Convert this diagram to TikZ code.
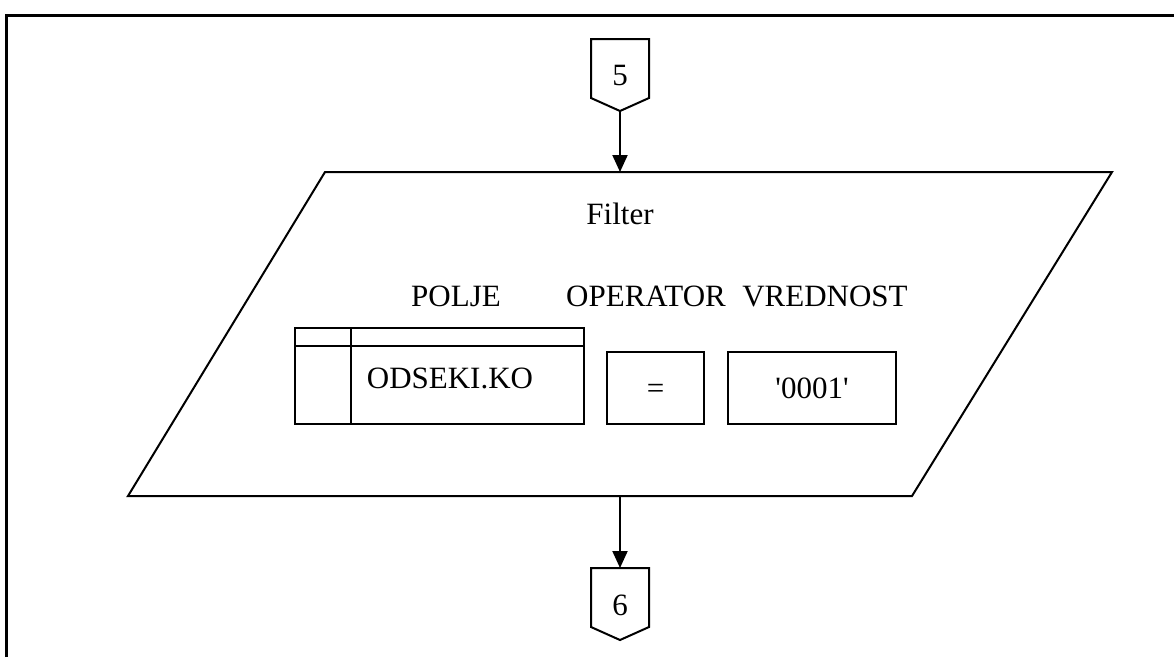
\documentclass[tikz,border=0pt]{standalone}
\usepackage{fontspec}
\setmainfont{Liberation Serif}
\usetikzlibrary{arrows.meta,calc}
\begin{document}
\begin{tikzpicture}[x=1pt,y=-1pt,
  line width=2pt,
  txt/.style={inner sep=0pt,anchor=base,font=\fontsize{31}{37}\selectfont},
  boxnode/.style={draw,inner sep=0pt,line join=miter},
  conn/.style={inner sep=0pt,minimum width=56pt,minimum height=57pt},
  flow/.style={-{Triangle[length=17pt,width=15pt]}},
]
\useasboundingbox (0,0) rectangle (1174,657);

% page frame, open to the right and below
\draw[line width=3pt,line join=miter] (6,657) -- (6,15) -- (1174,15);

% off-page connector 5
\node[conn] (c5) at (620,68.5) {};
\coordinate (c5tip) at (620,111);
\draw[line join=miter] (c5.north west) -- (c5.north east) -- (c5.south east)
  -- (c5tip) -- (c5.south west) -- cycle;
\node[txt] (n5) at (620,85) {5};

% filter block (parallelogram)
\coordinate (ftop) at (620,172);
\coordinate (fbot) at (620,496);
\draw[line join=miter] (325,172) -- (1112,172) -- (912,496) -- (128,496) -- cycle;
\node[txt] (filter) at (620,224) {Filter};

% column headings
\node[txt] (polje) at (456,306) {POLJE};
\node[txt] (oper) at (646,306) {OPERATOR};
\node[txt] (vred) at (825,306) {VREDNOST};

% field table
\node[boxnode,minimum width=289pt,minimum height=96pt] (tbl) at (439.5,376) {};
\draw ($(tbl.north west)+(0,19)$) -- ($(tbl.north east)+(0,19)$);
\draw ($(tbl.north west)+(57,0)$) -- ($(tbl.south west)+(57,0)$);
\node[txt] (field) at (450,388) {ODSEKI.KO};

% operator and value boxes
\node[boxnode,minimum width=97pt,minimum height=72pt] (opbox) at (655.5,388) {};
\node[txt] (eq) at (655.5,398) {=};
\node[boxnode,minimum width=168pt,minimum height=72pt] (valbox) at (812,388) {};
\node[txt] (val) at (812,398) {\textquotesingle0001\textquotesingle};

% off-page connector 6
\node[conn] (c6) at (620,597.5) {};
\coordinate (c6tip) at (620,640);
\draw[line join=miter] (c6.north west) -- (c6.north east) -- (c6.south east)
  -- (c6tip) -- (c6.south west) -- cycle;
\node[txt] (n6) at (620,615) {6};

% flow connectors
\draw[flow] (c5tip) -- (ftop);
\draw[flow] (fbot) -- (c6.north);
\end{tikzpicture}
\end{document}
